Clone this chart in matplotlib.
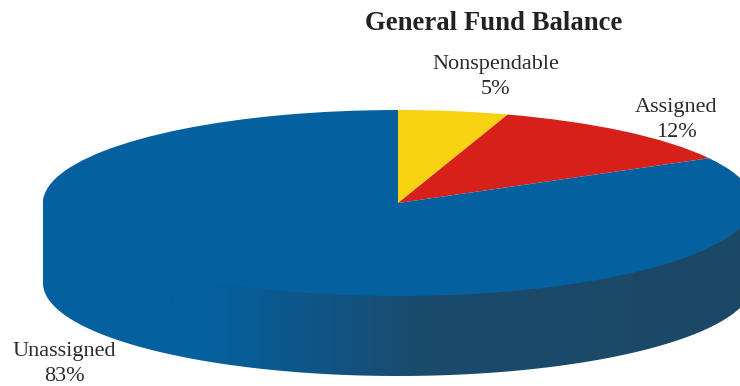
import numpy as np
import matplotlib
matplotlib.use("Agg")
import matplotlib.pyplot as plt
from matplotlib.colors import LinearSegmentedColormap
from matplotlib.patches import Polygon

categories = ["Nonspendable", "Assigned", "Unassigned"]
shares = [5, 12, 83]
colors = ["#f6d210", "#d8201a", "#05609f"]

W, H = 740, 386
CX, CY = 398, 203  # pie centre in pixels
RX, RY = 355, 93   # radii of the squashed top face
DEPTH = 80 / RY    # thickness of the disc in y units

plt.rcParams["font.family"] = ["Liberation Serif", "DejaVu Serif"]

fig = plt.figure(figsize=(W / 100, H / 100), dpi=100)
ax = fig.add_axes([0, 0, 1, 1])

# rim of the disc: lower half of the ellipse dropped by DEPTH,
# upper edge tucked under the top face so no seam shows
t = np.linspace(np.pi, 2 * np.pi, 200)
rim = np.column_stack([
    np.r_[np.cos(t), np.cos(t[::-1])],
    np.r_[np.sin(t) - DEPTH, np.sin(t[::-1]) + 0.1],
])
xmin, xmax = -CX / RX, (W - CX) / RX
ymin, ymax = (CY - H) / RY, CY / RY

shade = LinearSegmentedColormap.from_list("rim", [
    (0.0, "#05609f"),
    (0.28, "#05609f"),
    (0.42, "#0e5688"),
    (0.57, "#1a4b6d"),
    (1.0, "#1c4865"),
])
grad = ax.imshow(np.linspace(0, 1, 512).reshape(1, -1), cmap=shade, aspect="auto",
                 extent=(xmin, xmax, ymin, ymax), zorder=1)
grad.set_clip_path(Polygon(rim, transform=ax.transData))

wedges, _ = ax.pie(shares, colors=colors, startangle=90, counterclock=False,
                   wedgeprops={"linewidth": 0})
for w in wedges:
    w.set_zorder(2)

# pie() forces a round shape, release it so the disc lies flat
ax.set_aspect("auto")
ax.set_xlim(xmin, xmax)
ax.set_ylim(ymin, ymax)
ax.axis("off")

text_color = "#2b2b2b"
fig.text(494 / W, 1 - 24 / H, "General Fund Balance", ha="center", va="center",
         fontsize=19.3, fontweight="bold", color="#222222")

label_pos = [(496, 77), (676, 120), (64, 364)]
for name, share, (px, py) in zip(categories, shares, label_pos):
    fig.text(px / W, 1 - py / H, f"{name}\n{share}%", ha="center", va="center",
             fontsize=16, color=text_color, linespacing=1.45, zorder=5)

fig.savefig("out.png", dpi=100)
